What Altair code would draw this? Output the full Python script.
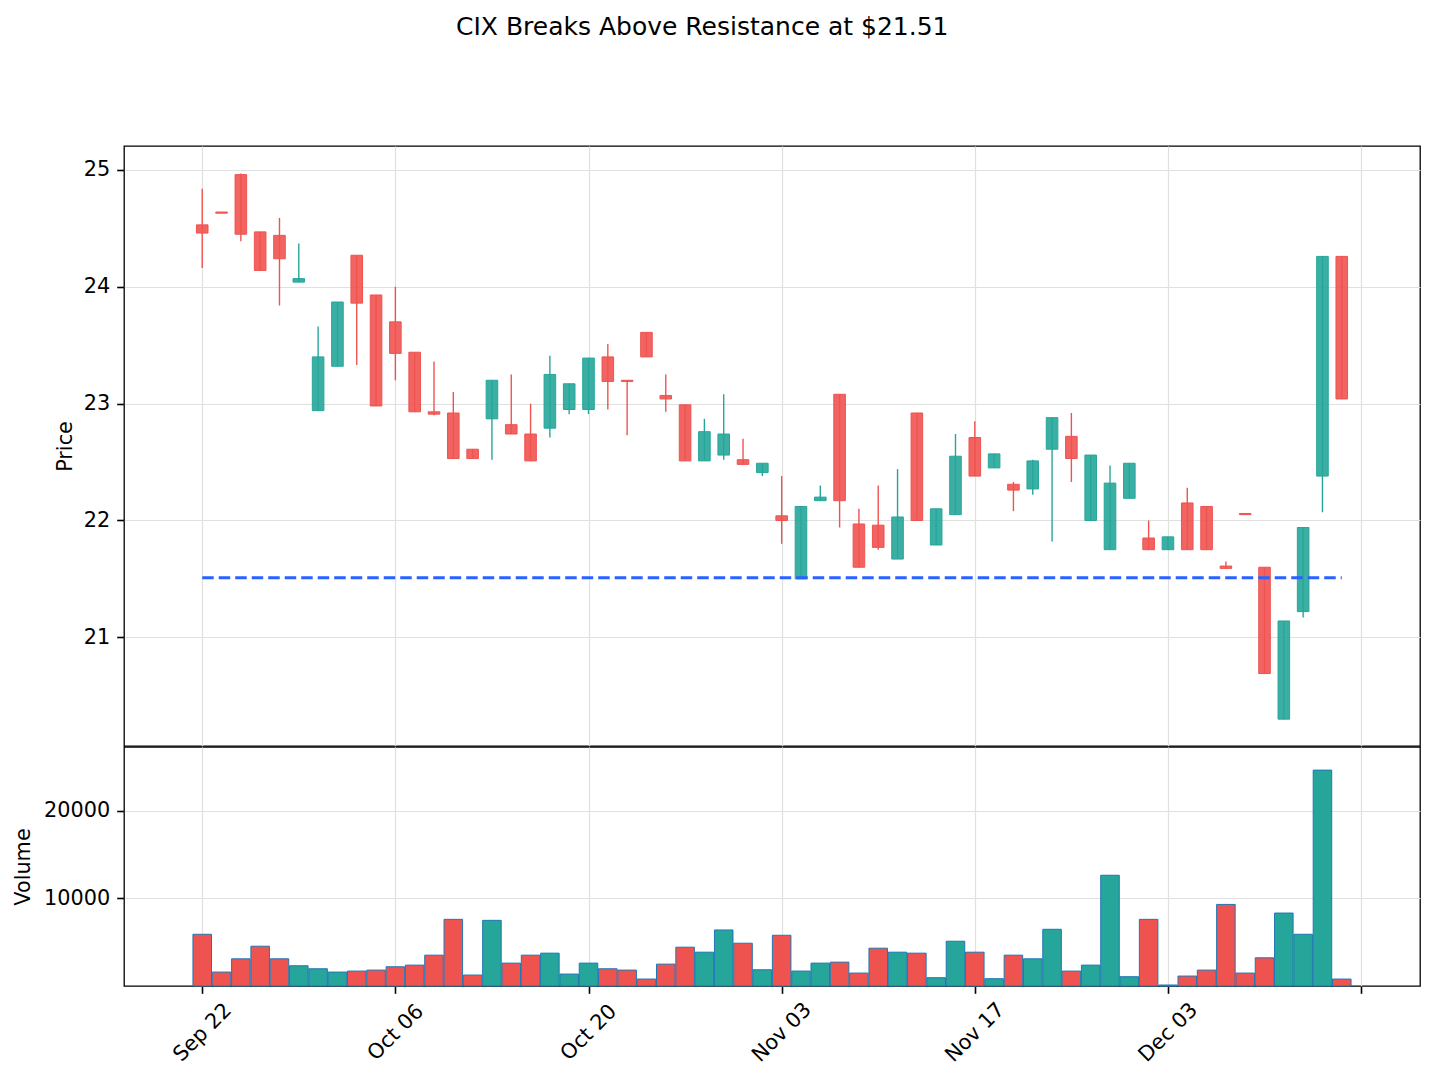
import altair as alt
import pandas as pd

# ---------------- data ----------------
tick_labels = ["Sep 22", "Oct 06", "Oct 20", "Nov 03", "Nov 17", "Dec 03", ""]

opens = [24.53, 24.64, 24.96, 24.47, 24.44, 24.04, 22.94, 23.32, 24.27, 23.93,
         23.70, 23.44, 22.93, 22.92, 22.61, 22.87, 22.82, 22.74, 22.79, 22.95,
         22.95, 23.40, 23.20, 23.61, 23.07, 22.99, 22.51, 22.56, 22.52, 22.41,
         22.04, 21.50, 22.17, 23.08, 21.97, 21.96, 21.67, 22.92, 21.79, 22.05,
         22.71, 22.45, 22.31, 22.27, 22.61, 22.72, 22.00, 21.75, 22.19, 21.85,
         21.75, 22.15, 22.12, 21.61, 22.06, 21.60, 20.30, 21.22, 22.38, 24.26]
highs = [24.84, 24.64, 24.97, 24.47, 24.59, 24.37, 23.66, 23.87, 24.27, 23.93,
         24.00, 23.44, 23.36, 23.10, 22.61, 23.20, 23.25, 23.00, 23.41, 23.17,
         23.39, 23.51, 23.20, 23.61, 23.25, 22.99, 22.87, 23.08, 22.70, 22.49,
         22.38, 22.12, 22.30, 23.08, 22.10, 22.30, 22.44, 22.92, 22.10, 22.74,
         22.85, 22.57, 22.33, 22.52, 22.88, 22.92, 22.56, 22.47, 22.49, 22.00,
         21.86, 22.28, 22.12, 21.65, 22.06, 21.60, 21.14, 21.94, 24.26, 24.26]
lows = [24.16, 24.63, 24.39, 24.14, 23.84, 24.04, 22.94, 23.32, 23.33, 22.98,
        23.20, 22.93, 22.90, 22.53, 22.53, 22.52, 22.74, 22.51, 22.71, 22.91,
        22.91, 22.95, 22.73, 23.40, 22.93, 22.51, 22.51, 22.52, 22.48, 22.38,
        21.80, 21.50, 22.17, 21.94, 21.60, 21.75, 21.67, 22.00, 21.79, 22.05,
        22.38, 22.45, 22.08, 22.22, 21.82, 22.33, 22.00, 21.75, 22.19, 21.75,
        21.75, 21.75, 21.75, 21.59, 22.05, 20.69, 20.30, 21.17, 22.07, 23.04]
closes = [24.46, 24.63, 24.45, 24.14, 24.24, 24.07, 23.40, 23.87, 23.86, 22.98,
          23.43, 22.93, 22.91, 22.53, 22.53, 23.20, 22.74, 22.51, 23.25, 23.17,
          23.39, 23.19, 23.19, 23.40, 23.04, 22.51, 22.76, 22.74, 22.48, 22.49,
          22.00, 22.12, 22.20, 22.17, 21.60, 21.77, 22.03, 22.00, 22.10, 22.55,
          22.38, 22.57, 22.26, 22.51, 22.88, 22.53, 22.56, 22.32, 22.49, 21.75,
          21.86, 21.75, 21.75, 21.59, 22.05, 20.69, 21.14, 21.94, 24.26, 23.04]
volumes = [5909, 1591, 3106, 4545, 3106, 2311, 1970, 1591, 1705, 1818,
           2197, 2386, 3523, 7614, 1250, 7500, 2614, 3523, 3750, 1364,
           2614, 1970, 1818, 795, 2500, 4432, 3864, 6402, 4887, 1856,
           5795, 1705, 2614, 2727, 1477, 4318, 3864, 3750, 947, 5114,
           3864, 833, 3523, 3106, 6477, 1705, 2386, 12652, 1061, 7614,
           114, 1136, 1818, 9318, 1477, 3220, 8333, 5909, 24659, 795]
resistance = 21.51
title_text = "CIX Breaks Above Resistance at $21.51"

# ---------------- tables ----------------
n = len(opens)
df = pd.DataFrame({
    "i": list(range(n)),
    "open": opens, "high": highs, "low": lows, "close": closes, "volume": volumes,
})
df["dir"] = ["up" if c >= o else "down" for o, c in zip(opens, closes)]
df["top"] = df[["open", "close"]].max(axis=1)
df["bot"] = df[["open", "close"]].min(axis=1)
res_df = pd.DataFrame({"x0": [0], "x1": [n - 1], "y": [resistance]})

FONT = "DejaVu Sans"
UP = "#26A69A"
DOWN = "#EF5350"
tick_vals = [i * 10 for i in range(len(tick_labels))]
label_expr = "[" + ",".join("'" + t + "'" for t in tick_labels) + "][round(datum.value/10)]"

xscale = alt.Scale(domain=[-4.05, 63.05], nice=False, zero=False)
pscale = alt.Scale(domain=[20.07, 25.205], nice=False, zero=False)
vscale = alt.Scale(domain=[0, 27300], nice=False)
dir_scale = alt.Scale(domain=["up", "down"], range=[UP, DOWN])

PRICE_H = 600
VOL_H = 239
W = 1296

base = alt.Chart(df)

x_price_axis = alt.Axis(values=tick_vals, labels=False, ticks=False, domain=False,
                        title=None, grid=True)
y_price_axis = alt.Axis(values=[21, 22, 23, 24, 25], format="d", title="Price",
                        grid=True, titleX=-59, titleY=PRICE_H / 2, titleAngle=-90,
                        titleAlign="center", titleBaseline="middle")

wick = base.mark_rule(strokeWidth=1.4).encode(
    x=alt.X("i:Q", scale=xscale, axis=x_price_axis),
    y=alt.Y("low:Q", scale=pscale, axis=y_price_axis),
    y2="high:Q",
    color=alt.Color("dir:N", scale=dir_scale, legend=None),
)

body = base.transform_calculate(
    x0="datum.i - 0.3", x1="datum.i + 0.3"
).mark_bar(fillOpacity=0.9, strokeWidth=1).encode(
    x=alt.X("x0:Q", scale=xscale),
    x2="x1:Q",
    y=alt.Y("bot:Q", scale=pscale),
    y2="top:Q",
    fill=alt.Fill("dir:N", scale=dir_scale, legend=None),
    stroke=alt.Stroke("dir:N", scale=dir_scale, legend=None),
)

res = alt.Chart(res_df).mark_rule(color="#2962FF", strokeWidth=3,
                                  strokeDash=[11.5, 5]).encode(
    x=alt.X("x0:Q", scale=xscale),
    x2="x1:Q",
    y=alt.Y("y:Q", scale=pscale),
)

price = alt.layer(wick, body, res).properties(width=W, height=PRICE_H)

vol = base.transform_calculate(
    v0="datum.i - 0.48", v1="datum.i + 0.48"
).mark_bar(stroke="#1f77b4", strokeWidth=1).encode(
    x=alt.X("v0:Q", scale=xscale,
            axis=alt.Axis(values=tick_vals, labelExpr=label_expr, labelAngle=-45,
                          labelAlign="center", labelBaseline="middle",
                          labelPadding=39, title=None, grid=True)),
    x2="v1:Q",
    y=alt.Y("volume:Q", scale=vscale,
            axis=alt.Axis(values=[10000, 20000], format="d", title="Volume",
                          grid=True, titleX=-100.5, titleY=VOL_H / 2,
                          titleAngle=-90, titleAlign="center",
                          titleBaseline="middle")),
    y2=alt.datum(0),
    fill=alt.Fill("dir:N", scale=dir_scale, legend=None),
).properties(width=W, height=VOL_H)

chart = alt.vconcat(price, vol, spacing=-1.3).properties(
    title=alt.Title(title_text, fontSize=25, font=FONT, fontWeight="normal",
                    color="black", anchor="middle", frame="bounds", dx=-14,
                    offset=85, baseline="alphabetic"),
    padding={"left": 11, "top": 15, "right": 10, "bottom": 5},
).configure_view(
    stroke="black", strokeWidth=1.3
).configure_axis(
    labelFont=FONT, labelFontSize=20.8, labelColor="black",
    titleFont=FONT, titleFontSize=20.8, titleFontWeight="normal", titleColor="black",
    tickColor="black", tickWidth=1.6, tickSize=7.3, labelPadding=7,
    gridColor="#e0e0e0", gridWidth=1.2, domain=False,
)

chart.save("out.html", embed_options={"renderer": "svg", "actions": False})
